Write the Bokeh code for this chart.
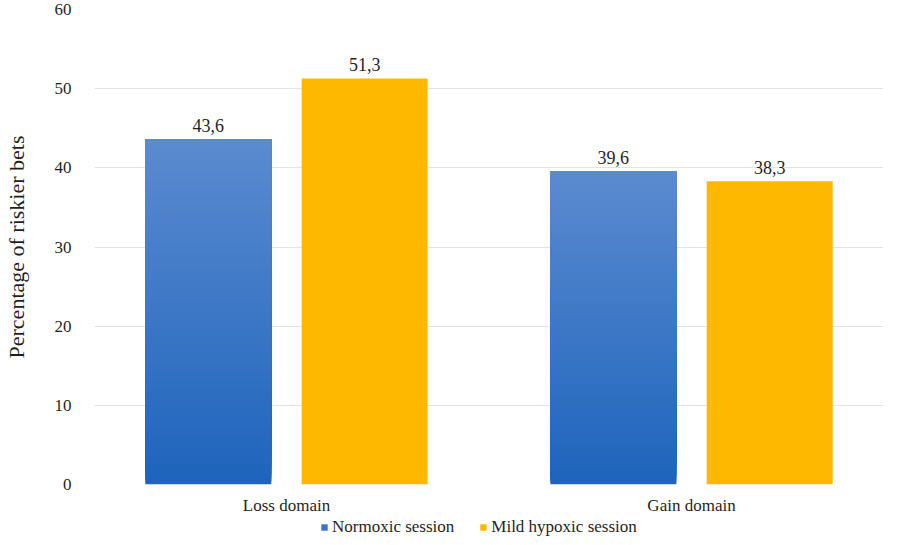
from bokeh.plotting import figure
from bokeh.layouts import column
from bokeh.models import (ColumnDataSource, Legend, LegendItem, LabelSet, FixedTicker,
                          Range1d, FactorRange)
from bokeh.transform import dodge
from bokeh.embed import file_html
from bokeh.resources import INLINE

domains = ["Loss domain", "Gain domain"]
sessions = ["Normoxic session", "Mild hypoxic session"]
normoxic = [43.6, 39.6]
hypoxic = [51.3, 38.3]
y_ticks = [0, 10, 20, 30, 40, 50, 60]

FONT = "Liberation Serif"
TXT = "#1f1f1f"
BLUE_TOP = (0x5B, 0x8B, 0xD0)
BLUE_BOTTOM = (0x1E, 0x64, 0xBC)
ORANGE = "#FFB800"
OFFSET = 0.193
WIDTH = 0.311

xr = FactorRange(*domains, range_padding=-0.026, range_padding_units="absolute")
p = figure(x_range=xr, y_range=Range1d(0, 60), width=885, height=517,
           output_backend="svg", toolbar_location=None,
           min_border_left=85, min_border_right=2, min_border_top=9, min_border_bottom=33)
p.outline_line_color = None

# gradient blue bars built from stacked segments (each segment runs to the bar top)
N = 120
seg = dict(domain=[], bottom=[], top=[], color=[])
for d, v in zip(domains, normoxic):
    for i in range(N):
        t = i / (N - 1)
        c = tuple(int(round(BLUE_BOTTOM[k] + (BLUE_TOP[k] - BLUE_BOTTOM[k]) * t)) for k in range(3))
        seg["domain"].append(d)
        seg["bottom"].append(v * i / N)
        seg["top"].append(v)
        seg["color"].append("#%02x%02x%02x" % c)
seg_src = ColumnDataSource(seg)
p.vbar(x=dodge("domain", -OFFSET, range=p.x_range), bottom="bottom", top="top", width=WIDTH,
       fill_color="color", line_color=None, source=seg_src)

hyp_src = ColumnDataSource(dict(domain=domains, value=hypoxic))
p.vbar(x=dodge("domain", OFFSET, range=p.x_range), top="value", width=WIDTH,
       fill_color=ORANGE, line_color=None, source=hyp_src)

for off, vals in ((-OFFSET, normoxic), (OFFSET, hypoxic)):
    src = ColumnDataSource(dict(domain=domains, value=vals,
                                text=[f"{v:.1f}".replace(".", ",") for v in vals]))
    p.add_layout(LabelSet(x=dodge("domain", off, range=p.x_range), y="value", text="text",
                          source=src, text_align="center", text_baseline="bottom",
                          y_offset=7, text_font=FONT, text_font_size="18px",
                          text_color=TXT))

p.yaxis.ticker = FixedTicker(ticks=y_ticks)
p.yaxis.axis_label = "Percentage of riskier bets"
p.yaxis.axis_label_text_font = FONT
p.yaxis.axis_label_text_font_size = "22px"
p.yaxis.axis_label_text_font_style = "normal"
p.yaxis.axis_label_text_color = TXT
p.yaxis.axis_label_standoff = 23
for ax in (p.xaxis, p.yaxis):
    ax.axis_line_color = None
    ax.major_tick_line_color = None
    ax.minor_tick_line_color = None
    ax.major_label_text_font = FONT
    ax.major_label_text_font_size = "17px"
    ax.major_label_text_color = TXT
p.yaxis.major_label_standoff = 17
p.xaxis.major_label_standoff = 5

p.xgrid.grid_line_color = None
p.ygrid.grid_line_color = "#E3E3E3"
p.ygrid.grid_line_width = 1
p.ygrid.ticker = FixedTicker(ticks=y_ticks)

# legend strip below the chart
lf = figure(width=885, height=20, output_backend="svg", toolbar_location=None,
            x_range=Range1d(0, 1), y_range=Range1d(0, 1),
            x_axis_location=None, y_axis_location=None,
            min_border_left=0, min_border_right=0, min_border_top=0, min_border_bottom=0)
lf.outline_line_color = None
lf.xgrid.visible = False
lf.ygrid.visible = False
proxy = ColumnDataSource(dict(x=[0.5], zero=[0]))
r1 = lf.vbar(x="x", bottom="zero", top="zero", width=0.0, fill_color="#3A75C6",
             line_color=None, source=proxy)
r2 = lf.vbar(x="x", bottom="zero", top="zero", width=0.0, fill_color=ORANGE,
             line_color=None, source=proxy)
legend = Legend(items=[LegendItem(label=sessions[0], renderers=[r1]),
                       LegendItem(label=sessions[1], renderers=[r2])],
                orientation="horizontal", location=(226, 0),
                label_text_font=FONT, label_text_font_size="17px", label_text_color=TXT,
                glyph_width=8, glyph_height=8, spacing=25, label_standoff=4,
                label_height=20, padding=0, margin=0, border_line_color=None,
                background_fill_alpha=0)
lf.add_layout(legend)

open("out.html", "w").write(file_html(column(p, lf), INLINE))
